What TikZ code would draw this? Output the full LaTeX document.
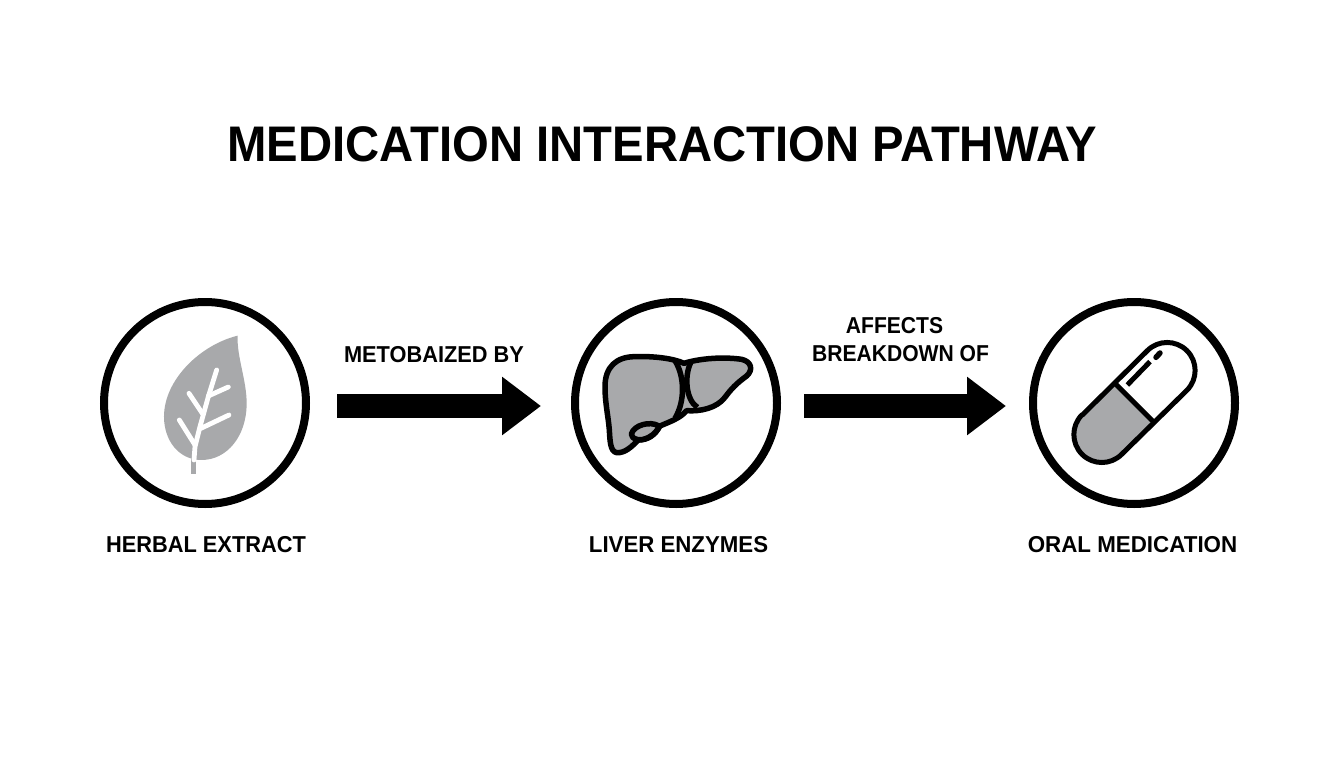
\documentclass[tikz,border=0pt]{standalone}
\usepackage{fontspec}
\setmainfont{Liberation Sans}
\usetikzlibrary{calc}
\usetikzlibrary{arrows.meta}
\definecolor{icongray}{HTML}{A8A9AB}
\tikzset{
	iconring/.style={draw=black,circle,line width=8pt,minimum size=202pt,inner sep=0pt,fill=white},
	flowarrow/.style={line width=24pt,-{Triangle[length=39pt,width=56pt]}},
	heading/.style={font=\fontsize{50}{56}\bfseries\selectfont\addfontfeature{FakeStretch=.945}},
	caption/.style={font=\fontsize{23}{28}\bfseries\selectfont\addfontfeature{FakeStretch=#1},align=center},
	zoomed/.style={x=.3333pt,y=-.3333pt},
	organ/.style={draw=black,line width=5.5pt,line join=round,fill=icongray},
	vein/.style={draw=white,line width=4.8pt,line cap=round,line join=round},
	capsule/.style={draw=black,line width=5pt,line join=round},
}
\begin{document}
\begin{tikzpicture}[x=1pt,y=-1pt]
	\useasboundingbox (0,0) rectangle (1344,768);
	\node[heading] (title) at (662.5,144) {MEDICATION INTERACTION PATHWAY};
	% the three rings
	\node[iconring] (herb) at (205,403) {};
	\node[iconring] (liver) at (676,403) {};
	\node[iconring] (pill) at (1134,403) {};
	% connectors
	\draw[flowarrow,shorten <=27pt,shorten >=30pt] ([yshift=-3pt]herb.east) -- ([yshift=-3pt]liver.west);
	\draw[flowarrow,shorten <=23pt,shorten >=23pt] ([yshift=-3pt]liver.east) -- ([yshift=-3pt]pill.west);
	% leaf
	\begin{scope}[shift={(90,290)},zoomed]
		\fill[icongray] (443,137) .. controls (440,200) and (470,270) .. (470,340)
			.. controls (470,440) and (410,510) .. (335,510)
			.. controls (265,510) and (222,450) .. (222,380)
			.. controls (222,270) and (330,165) .. (443,137) -- cycle;
		\draw[icongray,line width=5pt] (312,505) -- (312,553);
		\draw[vein] (380,240) -- (355,320) -- (330,410) -- (315,470) -- (312,510);
		\draw[vein] (355,318) -- (415,291);
		\draw[vein] (337,370) -- (297,310);
		\draw[vein] (333,415) -- (417,375);
		\draw[vein] (315,465) -- (268,390);
	\end{scope}
	% liver
	\begin{scope}[shift={(560,290)},zoomed]
		\draw[organ] (135,290) .. controls (135,230) and (170,200) .. (225,200)
			.. controls (280,198) and (340,205) .. (372,220)
			.. controls (420,205) and (490,200) .. (545,208)
			.. controls (575,215) and (580,240) .. (560,258)
			.. controls (530,280) and (515,295) .. (495,322)
			.. controls (470,355) and (420,365) .. (380,362)
			.. controls (360,385) and (330,395) .. (300,408)
			.. controls (285,435) and (265,450) .. (235,450)
			.. controls (215,470) and (195,490) .. (170,488)
			.. controls (150,485) and (150,450) .. (148,420)
			.. controls (145,380) and (135,340) .. (135,290) -- cycle;
		\draw[draw=black,line width=5.5pt] (345,212) .. controls (375,260) and (375,335) .. (345,385);
		\draw[draw=black,line width=5.5pt] (392,218) .. controls (372,260) and (378,330) .. (412,352);
		\draw[organ] (214,432) .. controls (222,405) and (270,392) .. (297,408)
			.. controls (290,435) and (250,455) .. (230,448)
			.. controls (220,445) and (214,440) .. (214,432) -- cycle;
	\end{scope}
	% capsule
	\begin{scope}[shift={(1020,290)},zoomed]
		\fill[white] (187,375) -- (382,182) arc (225:405:84) -- (305,493) arc (45:225:84) -- cycle;
		\fill[icongray] (187,375) -- (284,279) -- (402,397) -- (305,493) arc (45:225:84) -- cycle;
		\draw[capsule] (187,375) -- (382,182) arc (225:405:84) -- (305,493) arc (45:225:84) -- cycle;
		\draw[capsule] (284,279) -- (402,397);
		\draw[capsule] (322,285) -- (390,215);
		\draw[capsule,line width=5.5pt,line cap=round] (408,202) -- (420,189);
	\end{scope}
	% texts
	\node[caption=.947] (metabolized) at (434,355) {METOBAIZED BY};
	\node[caption=.917] (affects) at (900.5,340) {AFFECTS\hspace*{12pt}\\BREAKDOWN OF};
	\node[caption=.948] (herbname) at (206,545) {HERBAL EXTRACT};
	\node[caption=.967] (livername) at (678.5,545) {LIVER ENZYMES};
	\node[caption=.972] (pillname) at (1132.5,545) {ORAL MEDICATION};
\end{tikzpicture}
\end{document}
